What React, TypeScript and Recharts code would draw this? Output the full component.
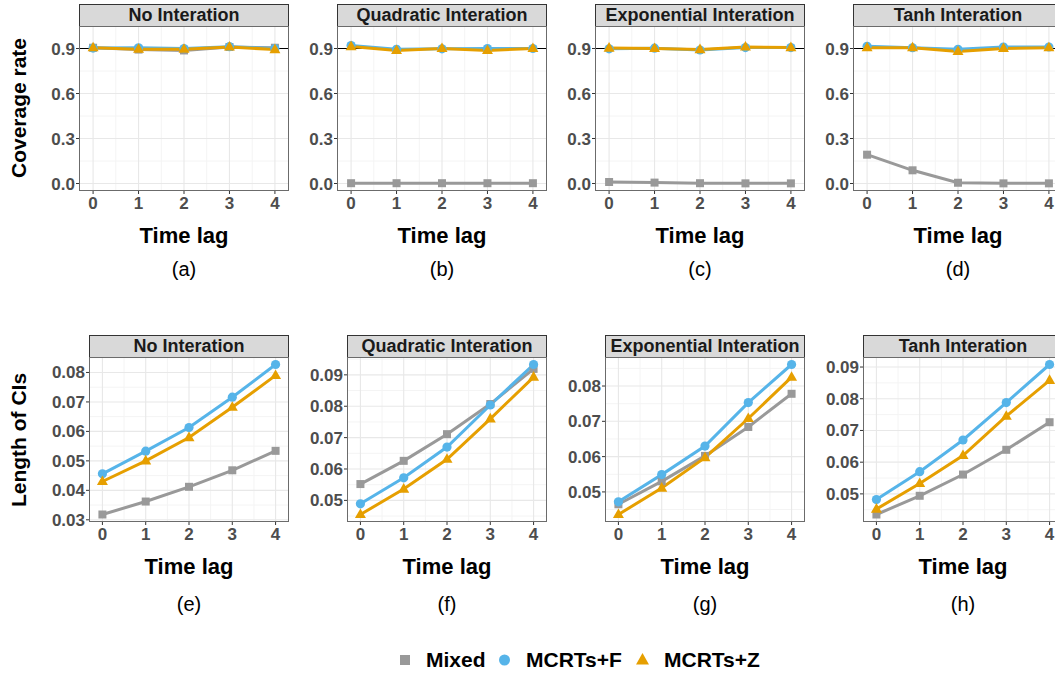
import React from "react";
import {
  CartesianGrid,
  Line,
  LineChart,
  ReferenceLine,
  XAxis,
  YAxis,
} from "recharts";

const lags = [0, 1, 2, 3, 4];
const panelTitles = [
  "No Interation",
  "Quadratic Interation",
  "Exponential Interation",
  "Tanh Interation",
];
const topLetters = ["(a)", "(b)", "(c)", "(d)"];
const bottomLetters = ["(e)", "(f)", "(g)", "(h)"];
const seriesNames = ["Mixed", "MCRTs+F", "MCRTs+Z"];

// coverage rate, one row per panel
const coverageMixed = [
  [0.905, 0.893, 0.887, 0.91, 0.905],
  [0.002, 0.002, 0.002, 0.002, 0.002],
  [0.01, 0.006, 0.002, 0.001, 0.001],
  [0.192, 0.088, 0.005, 0.001, 0.001],
];
const coverageF = [
  [0.903, 0.905, 0.9, 0.912, 0.9],
  [0.92, 0.895, 0.898, 0.9, 0.9],
  [0.898, 0.902, 0.89, 0.906, 0.906],
  [0.915, 0.905, 0.895, 0.91, 0.91],
];
const coverageZ = [
  [0.905, 0.895, 0.895, 0.91, 0.893],
  [0.913, 0.887, 0.9, 0.887, 0.9],
  [0.903, 0.9, 0.893, 0.91, 0.906],
  [0.905, 0.905, 0.88, 0.9, 0.905],
];
const coverageTicks = [0, 0.3, 0.6, 0.9];

// length of CIs, one row per panel
const lengthMixed = [
  [0.0318, 0.0362, 0.0412, 0.0468, 0.0534],
  [0.0552, 0.0626, 0.0711, 0.0807, 0.0919],
  [0.0465, 0.053, 0.0602, 0.0684, 0.0778],
  [0.0435, 0.0494, 0.0561, 0.0639, 0.0726],
];
const lengthF = [
  [0.0456, 0.0533, 0.0613, 0.0716, 0.0827],
  [0.0489, 0.0572, 0.067, 0.0804, 0.0933],
  [0.0472, 0.0549, 0.063, 0.0753, 0.0861],
  [0.0482, 0.057, 0.067, 0.0788, 0.0908],
];
const lengthZ = [
  [0.043, 0.05, 0.0579, 0.0682, 0.079],
  [0.0455, 0.0536, 0.0631, 0.076, 0.0893],
  [0.0436, 0.0511, 0.0597, 0.0708, 0.0825],
  [0.0452, 0.0533, 0.0621, 0.0745, 0.0858],
];
const lengthTicks = [
  [0.03, 0.04, 0.05, 0.06, 0.07, 0.08],
  [0.05, 0.06, 0.07, 0.08, 0.09],
  [0.05, 0.06, 0.07, 0.08],
  [0.05, 0.06, 0.07, 0.08, 0.09],
];

const GRAY = "#999999";
const BLUE = "#56B4E9";
const ORANGE = "#E69F00";
const FONT = "'Liberation Sans', Arial, Helvetica, sans-serif";

const PLOT_H = 165;
const TOP_Y = 26;
const BOTTOM_Y = 357;
const STRIP_H = 22;
const topLefts = [79, 337, 595, 853];
const bottomLefts = [89, 347, 605, 863];
const TOP_W = 210;
const BOTTOM_W = 200;
const Y_AXIS_W = 60;
const X_DOMAIN: [number, number] = [-0.31, 4.31];

type Row = { lag: number; mixed: number; f: number; z: number };

const buildRows = (m: number[], f: number[], z: number[]): Row[] =>
  lags.map((lag, i) => ({ lag, mixed: m[i], f: f[i], z: z[i] }));

// ggplot-style 5% expansion of the data range
const expandedDomain = (rows: Row[]): [number, number] => {
  const vals = rows.flatMap((r) => [r.mixed, r.f, r.z]);
  const lo = Math.min(...vals);
  const hi = Math.max(...vals);
  const pad = (hi - lo) * 0.05;
  return [lo - pad, hi + pad];
};

const minorBreaks = (ticks: number[], domain: [number, number]) => {
  const step = ticks[1] - ticks[0];
  const out: number[] = [];
  for (let v = ticks[0] - step / 2; v < domain[1]; v += step) {
    if (v > domain[0] && v < domain[1]) out.push(v);
  }
  return out;
};

const squareDot = (props: any) => {
  const { cx, cy, index } = props;
  if (cx == null || cy == null) return <g key={index} />;
  return <rect key={index} x={cx - 4} y={cy - 4} width={8} height={8} fill={GRAY} />;
};
const circleDot = (props: any) => {
  const { cx, cy, index } = props;
  if (cx == null || cy == null) return <g key={index} />;
  return <circle key={index} cx={cx} cy={cy} r={4.6} fill={BLUE} />;
};
const triangleDot = (props: any) => {
  const { cx, cy, index } = props;
  if (cx == null || cy == null) return <g key={index} />;
  return (
    <polygon
      key={index}
      points={`${cx},${cy - 6} ${cx - 5.5},${cy + 3.6} ${cx + 5.5},${cy + 3.6}`}
      fill={ORANGE}
    />
  );
};

type PanelProps = {
  left: number;
  top: number;
  width: number;
  rows: Row[];
  domain: [number, number];
  ticks: number[];
  digits: number;
  hline?: boolean;
};

function Panel({ left, top, width, rows, domain, ticks, digits, hline }: PanelProps) {
  const minorY = minorBreaks(ticks, domain);
  const minorX = minorBreaks(lags, X_DOMAIN);
  const tickStyle = { fill: "#4d4d4d", fontSize: 17, fontWeight: 700, fontFamily: FONT };
  return (
    <div style={{ position: "absolute", left: left - Y_AXIS_W, top }}>
      <LineChart
        width={Y_AXIS_W + width}
        height={PLOT_H + 40}
        data={rows}
        margin={{ top: 0, right: 0, bottom: 0, left: 0 }}
      >
        <CartesianGrid stroke="#f4f4f4" strokeWidth={1} horizontalValues={minorY} verticalValues={minorX} />
        <CartesianGrid stroke="#e8e8e8" strokeWidth={1.1} horizontalValues={ticks} verticalValues={lags} />
        <XAxis
          type="number"
          dataKey="lag"
          domain={X_DOMAIN}
          ticks={lags}
          allowDataOverflow
          interval={0}
          height={40}
          tickSize={3}
          tickMargin={3}
          axisLine={false}
          tickLine={{ stroke: "#333333" }}
          tick={tickStyle}
        />
        <YAxis
          type="number"
          domain={domain}
          ticks={ticks}
          allowDataOverflow
          interval={0}
          width={Y_AXIS_W}
          tickSize={3}
          tickMargin={1}
          axisLine={false}
          tickLine={{ stroke: "#333333" }}
          tick={tickStyle}
          tickFormatter={(v: number) => v.toFixed(digits)}
        />
        {hline && <ReferenceLine y={0.9} stroke="#000000" strokeWidth={1} />}
        <Line dataKey="mixed" stroke={GRAY} strokeWidth={3} dot={false} activeDot={false} isAnimationActive={false} />
        <Line dataKey="f" stroke={BLUE} strokeWidth={3} dot={false} activeDot={false} isAnimationActive={false} />
        <Line dataKey="z" stroke={ORANGE} strokeWidth={3} dot={false} activeDot={false} isAnimationActive={false} />
        <Line dataKey="mixed" stroke="none" dot={squareDot} activeDot={false} isAnimationActive={false} />
        <Line dataKey="f" stroke="none" dot={circleDot} activeDot={false} isAnimationActive={false} />
        <Line dataKey="z" stroke="none" dot={triangleDot} activeDot={false} isAnimationActive={false} />
      </LineChart>
    </div>
  );
}

function Strip({ left, top, width, title }: { left: number; top: number; width: number; title: string }) {
  return (
    <g>
      <rect x={left + 0.5} y={top - STRIP_H + 0.5} width={width - 1} height={STRIP_H} fill="#d9d9d9" stroke="#333333" strokeWidth={1} />
      <text x={left + width / 2} y={top - 5} textAnchor="middle" fontSize={18} fontWeight={700} fill="#1a1a1a">
        {title}
      </text>
    </g>
  );
}

export default function App() {
  const topRows = coverageMixed.map((m, i) => buildRows(m, coverageF[i], coverageZ[i]));
  const bottomRows = lengthMixed.map((m, i) => buildRows(m, lengthF[i], lengthZ[i]));

  return (
    <div
      style={{
        position: "absolute",
        left: 0,
        top: 0,
        width: 1055,
        height: 673,
        overflow: "hidden",
        background: "#ffffff",
        fontFamily: FONT,
      }}
    >
      <svg width={1055} height={673} style={{ position: "absolute", left: 0, top: 0 }} fontFamily={FONT}>
        {panelTitles.map((t, i) => (
          <g key={`top-${i}`}>
            <Strip left={topLefts[i]} top={TOP_Y} width={TOP_W} title={t} />
            <text x={topLefts[i] + TOP_W / 2} y={243} textAnchor="middle" fontSize={22} fontWeight={700} fill="#000">
              Time lag
            </text>
            <text x={topLefts[i] + TOP_W / 2} y={276} textAnchor="middle" fontSize={20} fill="#000">
              {topLetters[i]}
            </text>
          </g>
        ))}
        {panelTitles.map((t, i) => (
          <g key={`bottom-${i}`}>
            <Strip left={bottomLefts[i]} top={BOTTOM_Y} width={BOTTOM_W} title={t} />
            <text x={bottomLefts[i] + BOTTOM_W / 2} y={574} textAnchor="middle" fontSize={22} fontWeight={700} fill="#000">
              Time lag
            </text>
            <text x={bottomLefts[i] + BOTTOM_W / 2} y={611} textAnchor="middle" fontSize={20} fill="#000">
              {bottomLetters[i]}
            </text>
          </g>
        ))}
        <text transform="translate(26,108) rotate(-90)" textAnchor="middle" fontSize={21} fontWeight={700} fill="#000">
          Coverage rate
        </text>
        <text transform="translate(26,440) rotate(-90)" textAnchor="middle" fontSize={21} fontWeight={700} fill="#000">
          Length of CIs
        </text>
        {/* legend */}
        <rect x={400} y={655} width={10} height={10} fill={GRAY} />
        <text x={426} y={667} fontSize={21} fontWeight={700} fill="#000">{seriesNames[0]}</text>
        <circle cx={504.5} cy={660} r={5.5} fill={BLUE} />
        <text x={526} y={667} fontSize={21} fontWeight={700} fill="#000">{seriesNames[1]}</text>
        <polygon points="642.5,653 636,664.5 649,664.5" fill={ORANGE} />
        <text x={664} y={667} fontSize={21} fontWeight={700} fill="#000">{seriesNames[2]}</text>
      </svg>

      {topRows.map((rows, i) => (
        <Panel
          key={`tp-${i}`}
          left={topLefts[i]}
          top={TOP_Y}
          width={TOP_W}
          rows={rows}
          domain={[-0.05, 1.05]}
          ticks={coverageTicks}
          digits={1}
          hline
        />
      ))}
      {bottomRows.map((rows, i) => (
        <Panel
          key={`bp-${i}`}
          left={bottomLefts[i]}
          top={BOTTOM_Y}
          width={BOTTOM_W}
          rows={rows}
          domain={expandedDomain(rows)}
          ticks={lengthTicks[i]}
          digits={2}
        />
      ))}

      <svg width={1055} height={673} style={{ position: "absolute", left: 0, top: 0, pointerEvents: "none" }}>
        {topLefts.map((l) => (
          <rect key={`tb-${l}`} x={l + 0.5} y={TOP_Y + 0.5} width={TOP_W - 1} height={PLOT_H - 1} fill="none" stroke="#6b6b6b" strokeWidth={1} />
        ))}
        {bottomLefts.map((l) => (
          <rect key={`bb-${l}`} x={l + 0.5} y={BOTTOM_Y + 0.5} width={BOTTOM_W - 1} height={PLOT_H - 1} fill="none" stroke="#6b6b6b" strokeWidth={1} />
        ))}
      </svg>
    </div>
  );
}
